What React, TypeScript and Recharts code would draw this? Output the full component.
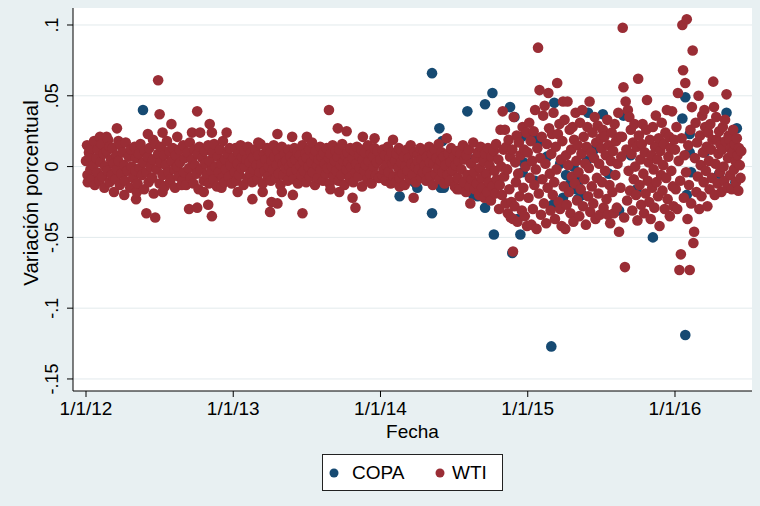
import React from 'react';
import { ScatterChart, Scatter, XAxis, YAxis, ReferenceLine } from 'recharts';

const FONT = "'Liberation Sans', Arial, Helvetica, sans-serif";

// x = year (12 = 1/1/2012), y = variación porcentual
const xTicks = [12, 13, 14, 15, 16];
const xTickLabels = ['1/1/12', '1/1/13', '1/1/14', '1/1/15', '1/1/16'];
const yTicks = [-0.15, -0.1, -0.05, 0, 0.05, 0.1];
const yTickLabels = ['-.15', '-.1', '-.05', '0', '.05', '.1'];

const wti2012: [number, number][] = [
  [12.00, .004], [12.007, .015], [12.01, -.006], [12.012, -.011], [12.02, .010], [12.025, .007], [12.03, -.002], [12.035, .013], [12.04, -.009], [12.05, .001],
  [12.055, .018], [12.06, -.013], [12.07, .006], [12.075, -.004], [12.08, .012], [12.09, -.010], [12.095, .021], [12.10, .003], [12.105, .016], [12.11, -.007],
  [12.12, .009], [12.125, -.015], [12.13, .000], [12.14, .021], [12.14, .011], [12.145, -.003], [12.15, .019], [12.16, .014], [12.16, -.011], [12.17, .005],
  [12.175, -.006], [12.18, .013], [12.19, -.018], [12.19, .002], [12.20, -.009], [12.205, .008], [12.21, .027], [12.21, -.002], [12.22, .018], [12.22, .004],
  [12.23, -.013], [12.235, .015], [12.24, -.005], [12.25, .010], [12.26, -.020], [12.26, .001], [12.265, -.010], [12.27, .017], [12.28, -.003], [12.29, .007],
  [12.30, -.015], [12.305, .012], [12.31, .000], [12.32, -.008], [12.33, .014], [12.335, -.003], [12.34, -.023], [12.345, -.018], [12.34, .006], [12.35, -.012],
  [12.36, .009], [12.365, -.001], [12.37, .016], [12.38, -.006], [12.39, .003], [12.395, -.016], [12.40, .011], [12.41, -.033], [12.41, -.004], [12.42, .023],
  [12.42, .007], [12.425, -.011], [12.43, .013], [12.44, .000], [12.45, -.008], [12.455, .019], [12.455, .005], [12.46, -.019], [12.47, -.036], [12.47, .016],
  [12.48, -.002], [12.49, .061], [12.49, .009], [12.50, .037], [12.50, -.012], [12.505, .003], [12.51, .014], [12.52, .024], [12.52, -.018], [12.52, -.006],
  [12.53, .008], [12.535, -.014], [12.54, .001], [12.55, .018], [12.56, -.004], [12.565, .011], [12.57, -.011], [12.575, -.009], [12.58, .030], [12.58, .004],
  [12.59, .013], [12.60, -.002], [12.605, -.015], [12.61, .008], [12.62, .021], [12.62, .000], [12.63, -.007], [12.635, .012], [12.64, .003], [12.65, -.013],
  [12.655, -.010], [12.66, .015], [12.665, -.004], [12.67, .006], [12.68, -.013], [12.69, .010], [12.70, -.030], [12.70, -.001], [12.705, .017], [12.71, -.008],
  [12.72, .024], [12.72, .005], [12.73, -.012], [12.735, .012], [12.74, .001], [12.75, -.005], [12.755, .039], [12.755, -.029], [12.76, .009], [12.765, -.016],
  [12.77, .014], [12.775, .024], [12.78, -.002], [12.79, .006], [12.80, -.018], [12.80, -.010], [12.805, .011], [12.81, .002], [12.82, -.006], [12.83, -.027],
  [12.83, .015], [12.835, -.012], [12.84, .030], [12.84, .004], [12.85, -.003], [12.855, .024], [12.855, -.035], [12.86, .010], [12.865, -.009], [12.87, .016],
  [12.88, .000], [12.89, -.014], [12.895, .007], [12.90, -.004], [12.91, .012], [12.92, -.015], [12.92, .002], [12.925, -.008], [12.93, .018], [12.94, -.011],
  [12.945, .005], [12.95, -.002], [12.955, .024], [12.96, .009], [12.97, -.007], [12.975, .013], [12.98, .001], [12.99, -.012],
];

const wti2013: [number, number][] = [
  [13.00, .006], [13.01, -.004], [13.015, .013], [13.02, -.010], [13.03, -.018], [13.03, .002], [13.035, .009], [13.04, -.006], [13.05, .015], [13.055, -.001],
  [13.06, .007], [13.07, -.013], [13.075, .011], [13.08, .000], [13.09, .005], [13.095, -.008], [13.10, .014], [13.11, .003], [13.115, -.005], [13.12, .010],
  [13.13, -.023], [13.13, -.011], [13.135, .006], [13.14, -.002], [13.15, .012], [13.16, .001], [13.165, -.009], [13.17, .017], [13.17, .008], [13.18, -.004],
  [13.185, .016], [13.19, .002], [13.20, -.018], [13.20, -.012], [13.21, .009], [13.215, -.003], [13.22, .005], [13.23, .013], [13.235, -.007], [13.24, .000],
  [13.25, -.032], [13.25, .010], [13.255, -.010], [13.26, -.025], [13.26, .004], [13.27, -.002], [13.275, .015], [13.28, .007], [13.29, -.008], [13.295, .001],
  [13.30, .023], [13.30, -.026], [13.30, .011], [13.31, -.005], [13.315, .006], [13.32, -.013], [13.33, -.018], [13.33, .014], [13.335, .002], [13.34, -.006],
  [13.35, .009], [13.355, -.001], [13.36, .004], [13.37, -.010], [13.375, .012], [13.38, .000], [13.39, .007], [13.395, -.004], [13.40, .021], [13.40, .003],
  [13.405, -.020], [13.41, -.009], [13.415, .013], [13.42, .005], [13.43, -.002], [13.435, .010], [13.44, -.012], [13.45, .008], [13.455, .001], [13.46, -.006],
  [13.47, -.033], [13.47, .015], [13.475, .004], [13.48, -.003], [13.49, .009], [13.495, -.011], [13.50, .021], [13.50, .006], [13.51, .000], [13.515, .012],
  [13.52, -.007], [13.53, .003], [13.535, .017], [13.54, -.004], [13.55, .008], [13.555, -.013], [13.56, .011], [13.57, .001], [13.575, -.008], [13.58, .005],
  [13.59, .014], [13.595, -.002], [13.60, .007], [13.61, -.010], [13.615, .010], [13.62, .002], [13.63, -.005], [13.635, .013], [13.64, -.001], [13.65, .040],
  [13.65, .006], [13.655, -.012], [13.66, -.016], [13.66, .009], [13.67, .000], [13.675, .015], [13.68, -.007], [13.69, .004], [13.695, .011], [13.70, -.003],
  [13.71, .027], [13.71, .007], [13.715, -.010], [13.72, -.018], [13.72, .012], [13.73, .001], [13.735, -.006], [13.74, .016], [13.75, .004], [13.755, -.013],
  [13.76, .008], [13.77, .025], [13.77, -.002], [13.775, .010], [13.78, .003], [13.79, -.008], [13.795, .013], [13.80, .000], [13.81, -.022], [13.81, .006],
  [13.815, -.011], [13.82, .011], [13.83, -.029], [13.83, -.004], [13.835, .002], [13.84, .014], [13.85, -.007], [13.855, .008], [13.86, -.001], [13.87, .012],
  [13.875, -.014], [13.88, .021], [13.88, .005], [13.89, -.003], [13.895, .010], [13.90, .001], [13.91, -.009], [13.915, .015], [13.92, .004], [13.93, -.005],
  [13.935, .009], [13.94, -.012], [13.95, .007], [13.955, .000], [13.96, .020], [13.96, .013], [13.97, -.006], [13.975, .003], [13.98, .011], [13.99, -.008],
];

const wti2014: [number, number][] = [
  [14.00, .005], [14.01, -.006], [14.015, .012], [14.02, -.002], [14.03, .008], [14.035, -.010], [14.04, .001], [14.05, .014], [14.055, -.004], [14.06, .006],
  [14.07, -.012], [14.075, .010], [14.08, .002], [14.085, .019], [14.085, -.011], [14.09, -.007], [14.10, .004], [14.105, -.011], [14.11, .009], [14.12, -.001],
  [14.125, .013], [14.13, -.014], [14.13, -.008], [14.14, .003], [14.145, .011], [14.15, -.005], [14.16, .007], [14.165, -.013], [14.17, .000], [14.18, .012],
  [14.185, -.003], [14.19, .006], [14.20, -.009], [14.205, .015], [14.21, .002], [14.225, -.022], [14.22, -.006], [14.23, .010], [14.235, .000], [14.24, -.011],
  [14.25, .008], [14.255, .004], [14.26, -.002], [14.27, .013], [14.275, -.008], [14.28, .005], [14.29, -.004], [14.295, .011], [14.30, .001], [14.31, -.010],
  [14.315, .007], [14.32, -.003], [14.33, .014], [14.335, .003], [14.34, -.007], [14.35, .009], [14.355, -.013], [14.36, .002], [14.37, .012], [14.375, -.005],
  [14.38, .006], [14.39, -.001], [14.395, .016], [14.40, -.009], [14.41, .004], [14.415, .010], [14.42, -.004], [14.43, .007], [14.435, -.012], [14.44, .001],
  [14.45, .020], [14.455, -.006], [14.46, .009], [14.47, -.010], [14.475, .003], [14.48, .013], [14.49, -.003], [14.50, .007], [14.505, -.014], [14.51, .001],
  [14.52, -.016], [14.52, .011], [14.525, -.008], [14.53, .004], [14.54, -.016], [14.545, .009], [14.55, -.002], [14.56, .015], [14.565, -.011], [14.57, .005],
  [14.58, -.018], [14.585, .008], [14.59, -.006], [14.60, .012], [14.605, -.014], [14.61, -.026], [14.615, .002], [14.62, -.009], [14.63, .017], [14.635, -.004],
  [14.64, -.016], [14.65, .006], [14.655, -.012], [14.66, .010], [14.67, -.020], [14.675, -.001], [14.68, .014], [14.685, -.008], [14.69, -.015], [14.70, .004],
  [14.705, -.022], [14.71, .009], [14.72, -.005], [14.725, -.018], [14.73, .013], [14.735, -.011], [14.74, .001], [14.75, -.024], [14.755, .007], [14.76, -.014],
  [14.77, .011], [14.775, -.003], [14.78, -.019], [14.785, .016], [14.79, -.009], [14.80, .005], [14.805, -.030], [14.81, -.013], [14.815, .026], [14.82, .000],
  [14.825, -.020], [14.83, .039], [14.835, .012], [14.84, -.007], [14.845, .026], [14.85, -.026], [14.855, .014], [14.86, -.002], [14.865, -.033], [14.87, .019],
  [14.875, -.016], [14.88, .007], [14.885, -.036], [14.89, -.025], [14.895, .012], [14.90, -.060], [14.90, -.037], [14.905, .035], [14.91, -.028], [14.915, .003],
  [14.92, -.011], [14.925, .022], [14.93, -.039], [14.935, -.005], [14.94, .017], [14.945, -.021], [14.95, .008], [14.96, -.031], [14.965, .028], [14.97, -.015],
  [14.975, .012], [14.98, -.035], [14.985, .000], [14.99, .024], [14.995, -.042],
];

const wti2015: [number, number][] = [
  [15.00, .010], [15.005, -.022], [15.01, .031], [15.015, -.008], [15.02, .018], [15.025, -.041], [15.03, .004], [15.035, -.030], [15.04, .025], [15.045, -.013],
  [15.05, .040], [15.055, -.002], [15.06, -.044], [15.065, .013], [15.07, .084], [15.075, -.019], [15.08, .054], [15.085, .006], [15.09, -.034], [15.095, .021],
  [15.10, -.009], [15.105, .036], [15.11, -.026], [15.115, .043], [15.12, .002], [15.125, -.040], [15.13, .016], [15.135, -.015], [15.14, .052], [15.145, .027],
  [15.15, -.005], [15.155, -.031], [15.16, .009], [15.165, .023], [15.17, -.020], [15.175, .038], [15.18, -.011], [15.185, -.037], [15.19, .014], [15.195, -.002],
  [15.20, .059], [15.205, .023], [15.21, -.025], [15.215, .030], [15.22, -.030], [15.225, .005], [15.23, -.042], [15.235, .018], [15.24, .046], [15.245, -.014],
  [15.25, .033], [15.255, -.044], [15.26, .008], [15.265, -.027], [15.27, .046], [15.275, .001], [15.28, -.018], [15.285, .026], [15.29, -.033], [15.295, .012],
  [15.30, -.007], [15.305, .028], [15.31, -.039], [15.315, .019], [15.32, -.012], [15.325, .038], [15.33, .004], [15.335, -.024], [15.34, .015], [15.345, -.004],
  [15.35, -.035], [15.355, .031], [15.36, -.016], [15.365, .009], [15.37, .040], [15.375, -.028], [15.38, .021], [15.385, -.009], [15.39, .002], [15.395, -.041],
  [15.40, .014], [15.405, .028], [15.41, -.021], [15.415, -.001], [15.42, .046], [15.425, -.032], [15.43, .010], [15.435, -.014], [15.44, .024], [15.445, -.026],
  [15.45, .006], [15.455, .035], [15.46, -.037], [15.465, .017], [15.47, -.008], [15.475, .029], [15.48, -.019], [15.485, .002], [15.49, -.034], [15.495, .020],
  [15.50, .013], [15.505, -.011], [15.51, .026], [15.515, -.029], [15.52, .021], [15.525, -.003], [15.53, .008], [15.535, -.023], [15.54, .033], [15.545, -.034],
  [15.55, .015], [15.555, -.013], [15.56, -.040], [15.565, .004], [15.57, .024], [15.575, -.018], [15.58, .011], [15.585, -.033], [15.59, .030], [15.595, -.006],
  [15.60, .018], [15.605, -.029], [15.61, .002], [15.615, .038], [15.62, -.046], [15.625, .021], [15.63, -.015], [15.635, .007], [15.64, .021], [15.645, .098],
  [15.65, .056], [15.655, -.036], [15.66, -.071], [15.665, .046], [15.67, .012], [15.675, -.024], [15.68, .040], [15.685, -.003], [15.69, .035], [15.695, -.017],
  [15.70, .026], [15.705, .009], [15.71, -.031], [15.715, .017], [15.72, -.009], [15.725, .030], [15.73, .000], [15.735, -.020], [15.74, .014], [15.745, -.038],
  [15.75, .062], [15.755, .022], [15.76, -.013], [15.765, .005], [15.77, -.027], [15.775, .016], [15.78, .030], [15.785, -.005], [15.79, -.033], [15.795, .010],
  [15.80, -.019], [15.805, .026], [15.81, .047], [15.815, -.010], [15.82, .003], [15.825, -.025], [15.83, .019], [15.835, -.037], [15.84, .008], [15.845, -.015],
  [15.85, .028], [15.855, -.002], [15.86, -.029], [15.865, .014], [15.87, .036], [15.875, -.011], [15.88, .005], [15.885, -.021], [15.89, .020], [15.895, -.042],
  [15.90, .011], [15.905, -.006], [15.91, .031], [15.915, -.017], [15.92, .001], [15.925, .016], [15.93, -.030], [15.935, .024], [15.94, -.008], [15.945, .040],
  [15.95, -.023], [15.955, .007], [15.96, .021], [15.965, -.035], [15.97, .013], [15.975, -.003], [15.98, .039], [15.985, -.014], [15.99, -.028], [15.995, .019],
];

const wti2016: [number, number][] = [
  [16.00, .012], [16.005, -.016], [16.01, .028], [16.015, -.030], [16.02, .052], [16.025, .004], [16.03, -.073], [16.035, -.010], [16.04, -.062], [16.045, .020],
  [16.05, .100], [16.055, .068], [16.06, -.022], [16.065, .008], [16.07, .059], [16.075, -.004], [16.08, .104], [16.085, -.037], [16.09, .015], [16.095, -.013],
  [16.10, -.073], [16.105, .026], [16.11, -.026], [16.115, .042], [16.12, .082], [16.125, -.054], [16.13, -.046], [16.135, .006], [16.14, .031], [16.145, -.018],
  [16.15, .017], [16.155, -.007], [16.16, .050], [16.165, -.030], [16.17, .022], [16.175, .001], [16.18, -.021], [16.185, .036], [16.19, .010], [16.195, -.011],
  [16.20, .040], [16.205, .028], [16.21, -.003], [16.215, .014], [16.22, -.028], [16.225, .024], [16.23, .004], [16.235, -.016], [16.24, .030], [16.245, .012],
  [16.25, -.008], [16.255, .019], [16.26, .060], [16.265, .042], [16.27, -.020], [16.275, .002], [16.28, .035], [16.285, .019], [16.29, -.012], [16.295, .009],
  [16.30, .025], [16.305, -.004], [16.31, .015], [16.315, -.018], [16.32, .012], [16.325, .028], [16.33, .000], [16.335, -.010], [16.34, .033], [16.345, .018],
  [16.35, .051], [16.355, -.015], [16.36, .006], [16.365, .022], [16.37, .019], [16.375, -.006], [16.38, .013], [16.385, -.016], [16.39, .010], [16.395, .026],
  [16.40, -.002], [16.405, .016], [16.41, .004], [16.415, -.011], [16.42, .020], [16.425, .008], [16.43, -.017], [16.435, .013], [16.44, .001], [16.445, -.008],
  [16.45, .011],
];

const copa20122014: [number, number][] = [
  [12.387, .040], [14.13, -.021], [14.23, -.011], [14.25, -.015], [14.35, .066], [14.35, -.033], [14.40, .027], [14.42, .018], [14.41, -.015], [14.43, -.015],
  [14.59, .039], [14.62, .005], [14.63, -.020], [14.66, -.021], [14.71, .044], [14.71, -.029], [14.76, .052], [14.77, -.048], [14.80, -.010], [14.88, .042],
  [14.895, -.061], [14.91, .035], [14.93, -.037], [14.95, -.048], [14.96, .021], [14.965, -.004], [14.97, .003],
];

const copa20152016: [number, number][] = [
  [15.03, .022], [15.05, -.010], [15.08, .018], [15.13, .007], [15.16, -.127], [15.17, -.027], [15.18, .045], [15.22, .002], [15.24, -.022], [15.26, -.006],
  [15.29, -.012], [15.31, .000], [15.33, -.016], [15.34, -.023], [15.35, -.010], [15.37, -.020], [15.40, .004], [15.41, .038], [15.45, .012], [15.51, .037],
  [15.55, -.005], [15.62, -.031], [15.65, .036], [15.70, .008], [15.74, -.016], [15.85, -.050], [15.90, .015], [16.05, .034], [16.07, .049], [16.07, -.119],
  [16.08, -.020], [16.10, .023], [16.10, .010], [16.11, -.004], [16.20, .010], [16.30, -.005], [16.35, .038], [16.41, -.011], [16.42, .027],
];

const toPoints = (arr: [number, number][]) => arr.map(([x, y]) => ({ x, y }));
const wtiData = toPoints([...wti2012, ...wti2013, ...wti2014, ...wti2015, ...wti2016]);
const copaData = toPoints([...copa20122014, ...copa20152016]);

const COPA_COLOR = '#164A72';
const WTI_COLOR = '#9A2D35';
const BG = '#E8F0F2';
const GRID = '#E2EAEC';

const dot = (color: string) => (props: any) => (
  <circle cx={props.cx} cy={props.cy} r={5.3} fill={color} />
);

const XTick = (props: any) => {
  const { x, y, payload } = props;
  const i = xTicks.findIndex((t) => Math.abs(t - payload.value) < 1e-9);
  return (
    <text x={x} y={y + 16} textAnchor="middle" fontSize={19} fill="#000" fontFamily={FONT}>
      {xTickLabels[i]}
    </text>
  );
};

const YTick = (props: any) => {
  const { x, y, payload } = props;
  const i = yTicks.findIndex((t) => Math.abs(t - payload.value) < 1e-9);
  return (
    <text transform={`translate(${x - 7},${y}) rotate(-90)`} textAnchor="middle" fontSize={18} fill="#000" fontFamily={FONT}>
      {yTickLabels[i]}
    </text>
  );
};

const XLabel = () => (
  <text x={412.5} y={438} textAnchor="middle" fontSize={19} fill="#000" fontFamily={FONT}>
    Fecha
  </text>
);

const YLabel = () => (
  <text transform="translate(38,193) rotate(-90)" textAnchor="middle" fontSize={20.5} fill="#000" fontFamily={FONT}>
    Variación porcentual
  </text>
);

export default function App() {
  return (
    <div style={{ position: 'absolute', left: 0, top: 0, width: 760, height: 506, background: BG, fontFamily: FONT, overflow: 'hidden' }}>
      <div style={{ position: 'absolute', left: 73, top: 8, width: 679, height: 383, background: '#fff' }} />
      <div style={{ position: 'absolute', left: 0, top: 0 }}>
        <ScatterChart width={760} height={506} margin={{ top: 8, right: 8, left: 0, bottom: 85 }}>
          {yTicks.map((v) => (
            <ReferenceLine key={v} y={v} stroke={GRID} strokeWidth={1} />
          ))}
          <XAxis
            type="number"
            dataKey="x"
            domain={[11.9117, 16.523]}
            allowDataOverflow
            ticks={xTicks}
            interval={0}
            height={30}
            tickSize={6}
            tickMargin={2}
            stroke="#000"
            tick={<XTick />}
            label={<XLabel />}
          />
          <YAxis
            type="number"
            dataKey="y"
            domain={[-0.1585, 0.112]}
            allowDataOverflow
            ticks={yTicks}
            interval={0}
            width={73}
            tickSize={6}
            tickMargin={2}
            stroke="#000"
            tick={<YTick />}
            label={<YLabel />}
          />
          <Scatter name="COPA" data={copaData} fill={COPA_COLOR} shape={dot(COPA_COLOR)} isAnimationActive={false} />
          <Scatter name="WTI" data={wtiData} fill={WTI_COLOR} shape={dot(WTI_COLOR)} isAnimationActive={false} />
        </ScatterChart>
      </div>
      <div
        style={{
          position: 'absolute', left: 322, top: 454, width: 181, height: 37, boxSizing: 'border-box',
          border: '1px solid #222', background: '#fff',
        }}
      >
        <svg width={179} height={35} style={{ position: 'absolute', left: 0, top: 0 }}>
          <circle cx={11} cy={18} r={4.5} fill={COPA_COLOR} />
          <text x={29} y={24} fontSize={19} fill="#000" fontFamily={FONT}>COPA</text>
          <circle cx={117} cy={18} r={4.5} fill={WTI_COLOR} />
          <text x={129} y={24} fontSize={19} fill="#000" fontFamily={FONT}>WTI</text>
        </svg>
      </div>
    </div>
  );
}
